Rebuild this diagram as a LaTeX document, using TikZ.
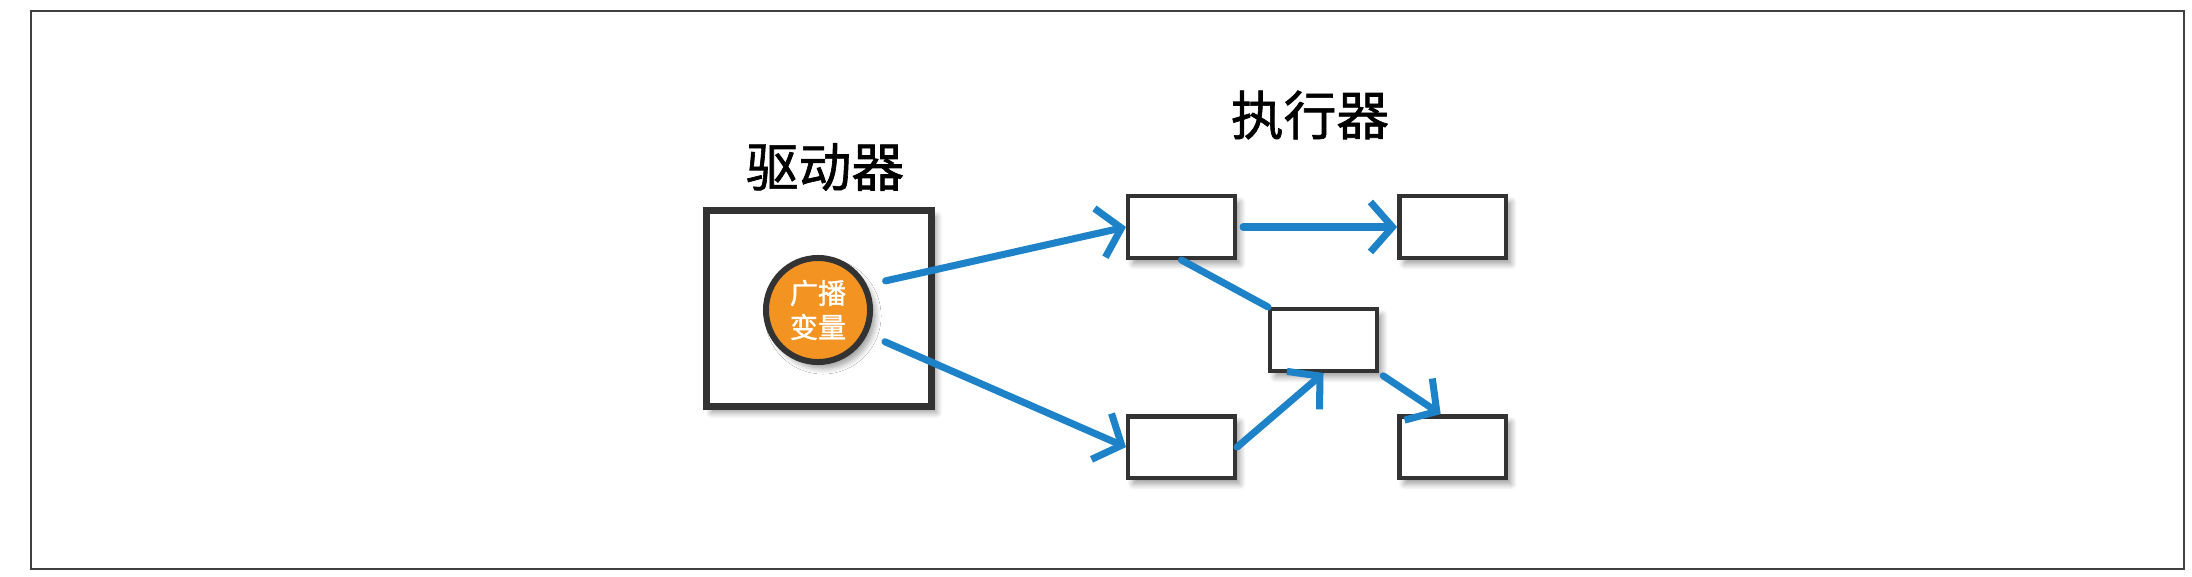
\documentclass[tikz,border=0pt]{standalone}
\usepackage{fontspec}
\setmainfont{Noto Sans CJK SC}
\newfontfamily\cjkbold{Noto Sans CJK SC}[FakeBold=1.2]
\usetikzlibrary{positioning,shadows.blur,arrows.meta}

\definecolor{inkblue}{HTML}{1E82C8}
\definecolor{boxgray}{HTML}{333333}
\definecolor{bvorange}{HTML}{F39322}

\tikzset{
  softshadow/.style={blur shadow={shadow xshift=0.05cm, shadow yshift=-0.06cm,
    shadow blur radius=0.06cm, shadow blur steps=8, shadow opacity=40}},
  execbox/.style={draw=boxgray, line width=0.045cm, fill=white, inner sep=0pt,
    minimum width=1.065cm, minimum height=0.615cm, softshadow},
  drvbox/.style={draw=boxgray, line width=0.07cm, fill=white, inner sep=0pt,
    minimum width=2.25cm, minimum height=1.96cm, softshadow},
  bcast/.style={circle, draw=boxgray, line width=0.06cm, fill=bvorange, inner sep=0pt,
    minimum size=1.04cm, text=white, align=center, font=\cjkbold\fontsize{8}{9.7}\selectfont, softshadow},
  title/.style={font=\cjkbold\fontsize{15}{18}\selectfont},
  flow/.style={->, draw=inkblue, line width=2pt, line cap=round}
}

\begin{document}
\begin{tikzpicture}[x=0.01cm, y=-0.01cm, node distance=1.6cm, >={Straight Barb[length=2.2mm,width=5mm]}]
  \useasboundingbox (0,0) rectangle (2192,576);
  \draw[line width=0.015cm, draw=black!75] (31,11) rectangle (2184,569);

  % driver
  \node(drv) [drvbox] at (819,308.5) {};
  \node(bv) [bcast] at (818,310) {广播\\变量};
  \node(drvlabel) [title] at (825,167) {驱动器};

  % executors
  \node(exlabel) [title] at (1310,115) {执行器};
  \node(A) [execbox] at (1181.5,227) {};
  \node(B) [execbox, right=1.6cm of A] {};
  \node(D) [execbox, below=1.54cm of A] {};
  \node(E) [execbox, below=1.54cm of B] {};
  \node(C) [execbox] at (1323.5,340) {};

  \draw[flow, shorten <=0.19cm](bv.27) to (A.west);
  \draw[flow, shorten <=0.19cm](bv.-26) to (D.west);
  \draw[flow, shorten <=0.06cm](A.east) to (B.west);
  \draw[flow, -](A.south) to (C.north west);
  \draw[flow](D.east) to (C.south);
  \draw[flow, shorten <=0.05cm](C.south east) to (E.110);
\end{tikzpicture}
\end{document}
